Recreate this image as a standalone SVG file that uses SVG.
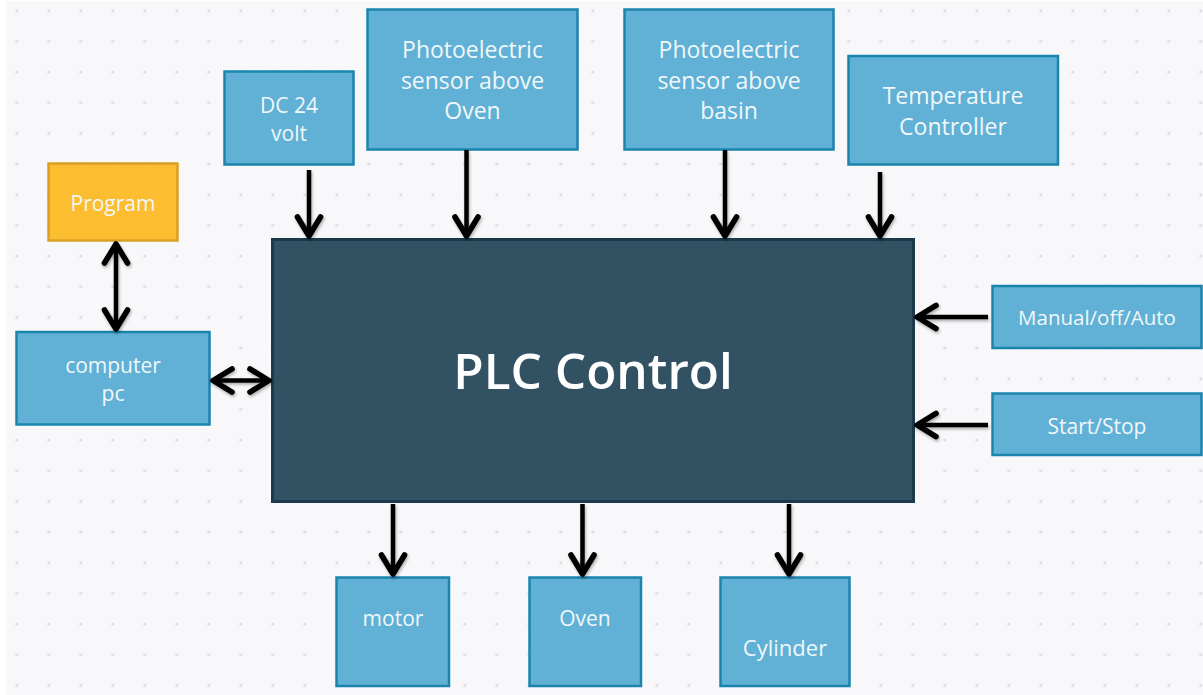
<svg xmlns="http://www.w3.org/2000/svg" width="1203" height="695" viewBox="0 0 1203 695">
  <defs>
    <pattern id="dots" x="16.7" y="10.7" width="32" height="30.667" patternUnits="userSpaceOnUse">
      <circle cx="0" cy="0" r="1.6" fill="#dcdce0"/>
      <circle cx="32" cy="0" r="1.6" fill="#dcdce0"/>
      <circle cx="0" cy="30.667" r="1.6" fill="#dcdce0"/>
      <circle cx="32" cy="30.667" r="1.6" fill="#dcdce0"/>
    </pattern>
    <marker id="head" markerUnits="userSpaceOnUse" markerWidth="30" markerHeight="30" viewBox="-20 -13 24 26" refX="0" refY="0" orient="auto-start-reverse">
      <path d="M -16.5 -10 L 0 0 L -16.5 10" fill="none" stroke="#000" stroke-width="4.8" stroke-linecap="round" stroke-linejoin="round"/>
    </marker>
    <filter id="sh" filterUnits="userSpaceOnUse" x="0" y="0" width="1203" height="695">
      <feDropShadow dx="1" dy="2" stdDeviation="1.6" flood-color="#000" flood-opacity="0.3"/>
    </filter>
  </defs>
  <style>
    .n { fill: #60b1d5; stroke: #1a84ad; stroke-width: 2.5; }
    .y { fill: #fdbd30; stroke: #d7a024; stroke-width: 2.5; }
    .plc { fill: #325264; stroke: #1b3a4d; stroke-width: 3; }
    text { font-family: "Open Sans", "Noto Sans", "DejaVu Sans", sans-serif; fill: #f1f7fa; text-anchor: middle; }
    .s21 { font-size: 21px; }
    .s23 { font-size: 23px; }
    .big { font-size: 49.5px; font-weight: 600; fill: #ffffff; }
    .c { fill: none; stroke: #000; stroke-width: 4.5; stroke-linecap: butt; }
  </style>
  <rect x="0" y="0" width="1203" height="695" fill="#ffffff"/>
  <rect x="6" y="1" width="1197" height="694" fill="#f8f8fa"/>
  <rect x="6" y="1" width="1197" height="694" fill="url(#dots)"/>

  <g id="plc">
    <rect class="plc" x="272.5" y="239.5" width="641" height="262"/>
    <text class="big" x="593" y="389">PLC Control</text>
  </g>

  <g id="dc24">
    <rect class="n" x="224.5" y="71.5" width="129" height="93"/>
    <text class="s21" x="289" y="113">DC 24</text>
    <text class="s21" x="289" y="141">volt</text>
  </g>

  <g id="sensor-oven">
    <rect class="n" x="367.5" y="9.5" width="210" height="140"/>
    <text class="s23" x="472.5" y="58">Photoelectric</text>
    <text class="s23" x="472.5" y="88.5">sensor above</text>
    <text class="s23" x="472.5" y="119">Oven</text>
  </g>

  <g id="sensor-basin">
    <rect class="n" x="624.5" y="9.5" width="209" height="140"/>
    <text class="s23" x="729" y="58">Photoelectric</text>
    <text class="s23" x="729" y="88.5">sensor above</text>
    <text class="s23" x="729" y="119">basin</text>
  </g>

  <g id="temperature">
    <rect class="n" x="848.5" y="56" width="209.5" height="108.5"/>
    <text class="s23" x="953" y="104">Temperature</text>
    <text class="s23" x="953" y="135">Controller</text>
  </g>

  <g id="program">
    <rect class="y" x="48.5" y="163.5" width="129" height="77"/>
    <text class="s21" x="113" y="211">Program</text>
  </g>

  <g id="computer">
    <rect class="n" x="16.5" y="332" width="193" height="92.5"/>
    <text class="s21" x="113" y="373">computer</text>
    <text class="s21" x="113" y="400.5">pc</text>
  </g>

  <g id="mode">
    <rect class="n" x="992.5" y="286" width="209" height="62"/>
    <text style="font-size:20.5px" x="1097" y="324.5">Manual/off/Auto</text>
  </g>

  <g id="startstop">
    <rect class="n" x="992.5" y="393.5" width="209" height="61.5"/>
    <text class="s21" x="1097" y="433.5">Start/Stop</text>
  </g>

  <g id="motor">
    <rect class="n" x="336.5" y="577.5" width="112.5" height="108.5"/>
    <text class="s21" x="393" y="626">motor</text>
  </g>

  <g id="oven">
    <rect class="n" x="529.5" y="577.5" width="111.5" height="108.5"/>
    <text class="s21" x="585" y="626">Oven</text>
  </g>

  <g id="cylinder">
    <rect class="n" x="720.5" y="577.5" width="129" height="108.5"/>
    <text style="font-size:22px" x="785" y="656">Cylinder</text>
  </g>

  <g id="connectors" filter="url(#sh)">
    <path class="c" d="M 309 170 L 309 236" marker-end="url(#head)"/>
    <path class="c" d="M 466.5 150 L 466.5 236" marker-end="url(#head)"/>
    <path class="c" d="M 725 150 L 725 236" marker-end="url(#head)"/>
    <path class="c" d="M 880 172 L 880 236" marker-end="url(#head)"/>
    <path class="c" d="M 116 244 L 116 329" marker-start="url(#head)" marker-end="url(#head)"/>
    <path class="c" d="M 213 380.5 L 269 380.5" marker-start="url(#head)" marker-end="url(#head)"/>
    <path class="c" d="M 988 317 L 917 317" marker-end="url(#head)"/>
    <path class="c" d="M 988 425 L 917 425" marker-end="url(#head)"/>
    <path class="c" d="M 393 504 L 393 574" marker-end="url(#head)"/>
    <path class="c" d="M 582.5 504 L 582.5 574" marker-end="url(#head)"/>
    <path class="c" d="M 789 504 L 789 574" marker-end="url(#head)"/>
  </g>
</svg>
